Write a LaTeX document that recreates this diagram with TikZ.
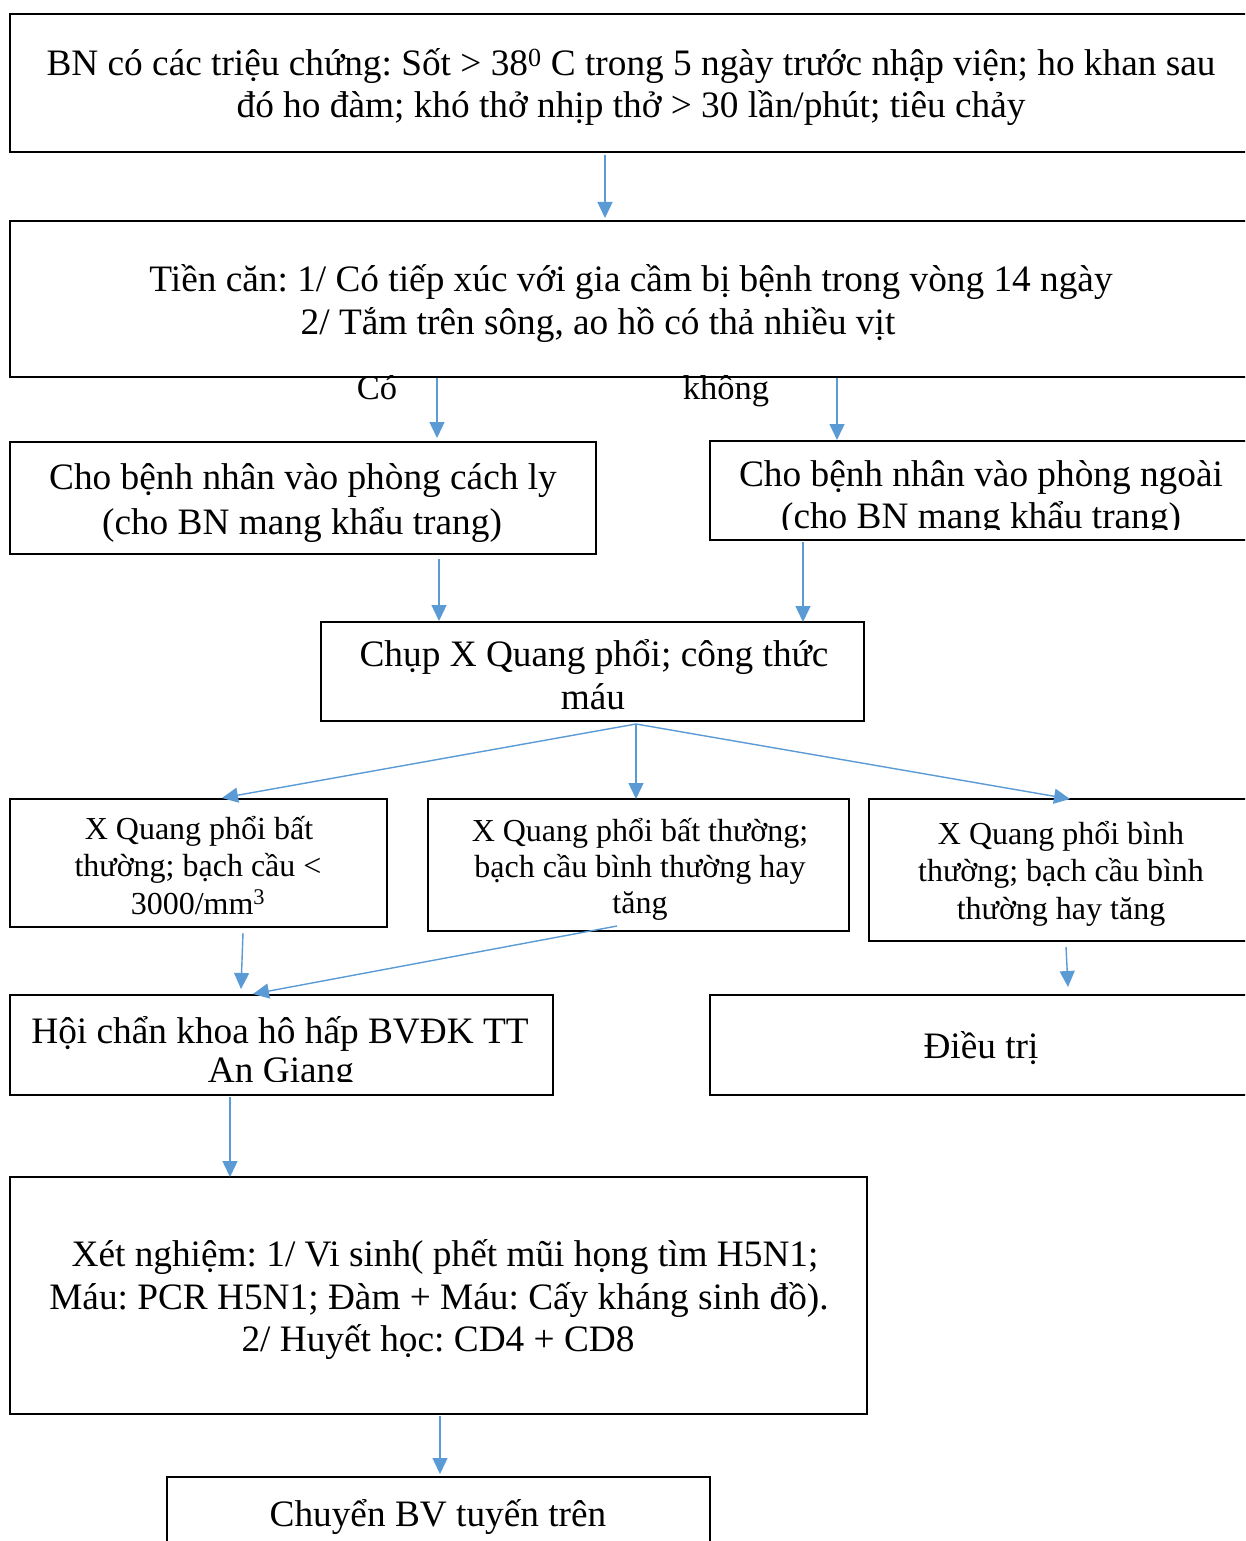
\documentclass[tikz,border=0pt]{standalone}
\usepackage{fontspec}
\setmainfont{Liberation Serif}
\usetikzlibrary{calc,arrows.meta}
\definecolor{arrblue}{HTML}{5B9BD5}
\frenchspacing
\tikzset{
  box/.style={draw=black, line width=2.5pt, anchor=north west, inner sep=0pt, outer sep=0pt},
  arr/.style={draw=arrblue, line width=1.4pt, -{Triangle[width=15pt,length=16pt]}},
  big/.style={anchor=base, inner sep=0pt, font=\frenchspacing\fontsize{37.3}{43}\selectfont},
  small/.style={anchor=base, inner sep=0pt, font=\frenchspacing\fontsize{32}{37}\selectfont},
  lbl/.style={anchor=base, inner sep=0pt, font=\fontsize{34.5}{40}\selectfont},
}
\begin{document}
\begin{tikzpicture}[x=1pt,y=-1pt]
\clip (0,0) rectangle (1245,1541);
\fill[white] (0,0) rectangle (1245,1541);

% boxes
\node[box, minimum width=1260pt, minimum height=138pt] (b1) at (10,14) {};
\node[box, minimum width=1260pt, minimum height=156pt] (b2) at (10,221) {};
\node[box, minimum width=586pt, minimum height=112pt] (b3) at (10,442) {};
\node[box, minimum width=600pt, minimum height=99pt] (b4) at (710,441) {};
\node[box, minimum width=543pt, minimum height=99pt] (b5) at (321,622) {};
\node[box, minimum width=377pt, minimum height=128pt] (b6) at (10,799) {};
\node[box, minimum width=421pt, minimum height=132pt] (b7) at (428,799) {};
\node[box, minimum width=450pt, minimum height=142pt] (b8) at (869,799) {};
\node[box, minimum width=543pt, minimum height=100pt] (b9) at (10,995) {};
\node[box, minimum width=600pt, minimum height=100pt] (b10) at (710,995) {};
\node[box, minimum width=857pt, minimum height=237pt] (b11) at (10,1177) {};
\node[box, minimum width=543pt, minimum height=100pt] (b12) at (167,1477) {};

% texts
\node[big] (t1a) at (631,76) {BN có các triệu chứng: Sốt > 38\textsuperscript{0} C trong 5 ngày trước nhập viện; ho khan sau};
\node[big] (t1b) at (631,118) {đó ho đàm; khó thở nhịp thở > 30 lần/phút; tiêu chảy};
\node[big] (t2a) at (631,291) {Tiền căn: 1/ Có tiếp xúc với gia cầm bị bệnh trong vòng 14 ngày};
\node[big] (t2b) at (598,334) {2/ Tắm trên sông, ao hồ có thả nhiều vịt};
\node[lbl] (lco) at (377,399) {Có};
\node[lbl] (lkhong) at (726,399) {không};
\node[big] (t3a) at (303,489) {Cho bệnh nhân vào phòng cách ly};
\node[big] (t3b) at (302,534) {(cho BN mang khẩu trang)};
\node[big] (t4a) at (981,486) {Cho bệnh nhân vào phòng ngoài};
\begin{scope}
  \clip ($(b4.north west)+(2,2)$) rectangle ($(b4.south east)+(-2,-11)$);
  \node[big] (t4b) at (981,528) {(cho BN mang khẩu trang)};
\end{scope}
\node[big] (t5a) at (594,666) {Chụp X Quang phổi; công thức};
\node[big] (t5b) at (593,709) {máu};
\node[small] (t6a) at (199,839) {X Quang phổi bất};
\node[small] (t6b) at (198,876) {thường; bạch cầu <};
\node[small] (t6c) at (198,914) {3000/mm\textsuperscript{3}};
\node[small] (t7a) at (640,841) {X Quang phổi bất thường;};
\node[small] (t7b) at (640,877) {bạch cầu bình thường hay};
\node[small] (t7c) at (640,913) {tăng};
\node[small] (t8a) at (1061,844) {X Quang phổi bình};
\node[small] (t8b) at (1061,881) {thường; bạch cầu bình};
\node[small] (t8c) at (1061,919) {thường hay tăng};
\node[big] (t9a) at (280,1043) {Hội chẩn khoa hô hấp BVĐK TT};
\begin{scope}
  \clip ($(b9.north west)+(2,2)$) rectangle ($(b9.south east)+(-2,-14)$);
  \node[big] (t9b) at (281,1082) {An Giang};
\end{scope}
\node[big] (t10) at (981,1058) {Điều trị};
\node[big] (t11a) at (445,1266) {Xét nghiệm: 1/ Vi sinh( phết mũi họng tìm H5N1;};
\node[big] (t11b) at (439,1309) {Máu: PCR H5N1; Đàm + Máu: Cấy kháng sinh đồ).};
\node[big] (t11c) at (438,1351) {2/ Huyết học: CD4 + CD8};
\node[big] (t12) at (438,1526) {Chuyển BV tuyến trên};

% connectors
\coordinate (split) at ($(b5.south west)+(315,3)$);
\draw[arr] ($(b1.south west)+(595,3)$) -- ($(b2.north west)+(595,-3)$);
\draw[arr] ($(b2.south west)+(427,1)$) -- ($(b3.north west)+(427,-4)$);
\draw[arr] ($(b2.south west)+(827,1)$) -- ($(b4.north west)+(127,-1)$);
\draw[arr] ($(b3.south west)+(429,5)$) -- ($(b5.north west)+(118,-1)$);
\draw[arr] ($(b4.south west)+(93,2)$) -- ($(b5.north west)+(482,0)$);
\draw[arr] (split) -- ($(b6.north west)+(212,-1)$);
\draw[arr] (split) -- ($(b7.north west)+(208,0)$);
\draw[arr] (split) -- ($(b8.north west)+(201,0)$);
\draw[arr] ($(b6.south west)+(233,6)$) -- ($(b9.north west)+(231,-6)$);
\draw[arr] ($(b7.south west)+(189,-5)$) -- ($(b9.north west)+(243,-1)$);
\draw[arr] ($(b8.south west)+(197,6)$) -- ($(b10.north west)+(358,-8)$);
\draw[arr] ($(b9.south west)+(220,2)$) -- ($(b11.north west)+(220,0)$);
\draw[arr] ($(b11.south west)+(430,2)$) -- ($(b12.north west)+(273,-3)$);
\end{tikzpicture}
\end{document}
